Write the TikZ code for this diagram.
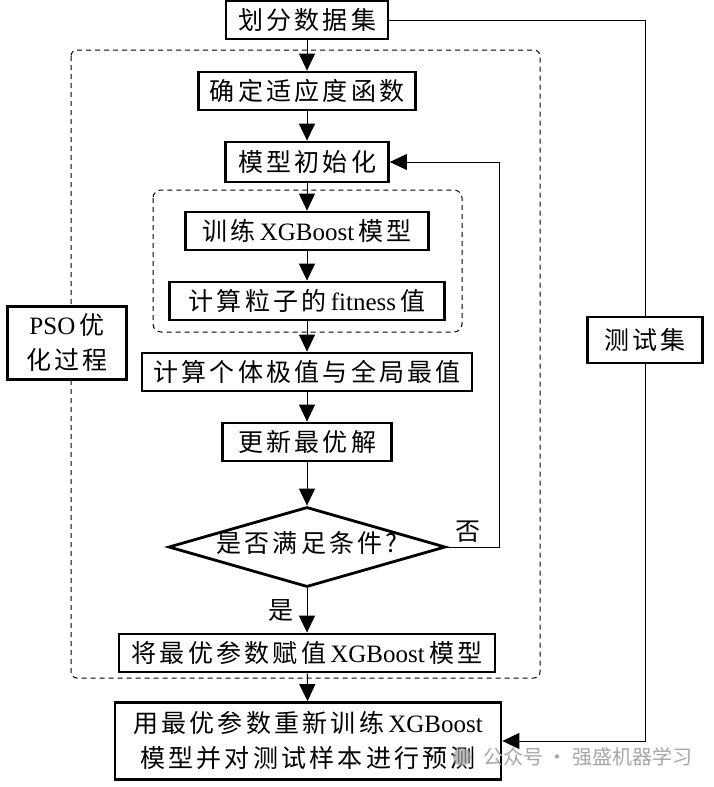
\documentclass[tikz,border=0pt]{standalone}
\usepackage{fontspec}
\setmainfont[LetterSpace=13]{Noto Sans CJK SC}
\newfontfamily\lat{Liberation Serif}
\newfontfamily\wmfont{Noto Sans CJK SC}
\newcommand{\en}[1]{{\lat #1}}
\usetikzlibrary{arrows.meta,shapes.geometric}

\tikzset{
  box/.style={draw,line width=2.8pt,fill=white,inner xsep=6pt,inner ysep=0pt,minimum height=38pt},
  arr/.style={-{Triangle[width=16pt,length=17pt]},line width=1pt},
  ln/.style={line width=1pt},
  dashbox/.style={dash pattern=on 5pt off 4pt,line width=1pt,rounded corners=6pt}
}

\begin{document}
\begin{tikzpicture}[x=1pt,y=-1pt,font=\fontsize{25pt}{35pt}\selectfont]
\useasboundingbox (0,0) rectangle (713,787);

\draw[dashbox] (71,50) rectangle (540,678);
\draw[dashbox,rounded corners=8pt] (153,190) rectangle (462,332);

\node[box,minimum width=162pt] (split) at (307,20) {划分数据集};
\node[box,minimum width=217pt] (fitfn) at (307,91) {确定适应度函数};
\node[box,minimum width=163pt,minimum height=40pt] (init) at (307,162) {模型初始化};
\node[box,minimum width=243pt] (train) at (307,231) {训练\,\en{XGBoost}\,模型};
\node[box,minimum width=275pt] (fitness) at (307,301) {计算粒子的\,\en{fitness}\,值};
\node[box,minimum width=330pt] (best) at (307,372) {计算个体极值与全局最值};
\node[box,minimum width=169pt] (update) at (307,442) {更新最优解};
\node[draw,diamond,line width=2.8pt,fill=white,inner sep=0pt,text height=14pt,text depth=4pt,
      aspect=3.4,minimum width=277pt,minimum height=80pt] (cond) at (307,547) {是否满足条件?};
\node[box,minimum width=376pt] (assign) at (307,653) {将最优参数赋值\,\en{XGBoost}\,模型};
\node[box,minimum width=386pt,minimum height=77pt,align=center] (final) at (308,741)
  {用最优参数重新训练\,\en{XGBoost}\\模型并对测试样本进行预测};
\node[box,minimum width=115pt,minimum height=46pt] (test) at (645,340) {测试集};
\node[box,minimum width=119pt,minimum height=73pt,align=center] (pso) at (67,343)
  {\en{PSO}\,优\\化过程};

\foreach \a/\b in {split/fitfn,fitfn/init,init/train,train/fitness,fitness/best,best/update,update/cond,assign/final}
{
\draw[arr] (\a) -- (\b);
}
\draw[arr] (cond) -- node[left=10pt] (yes) {是} (assign);
\draw[arr] (cond.east) -- node[above=1pt,pos=0.4] (no) {否} ++(53,0) |- (init.east);
\draw[ln] (split.north) -- ++(0,-3);
\draw[ln] (split.east) -| (test.north);
\draw[arr] (test.south) |- (final.east);

\fill[gray!70,opacity=0.7] (462,757) circle (9pt);
\node[text=gray!70,font=\wmfont\fontsize{20pt}{24pt}\selectfont,anchor=west] (wm) at (480,757) {公众号 · 强盛机器学习};
\end{tikzpicture}
\end{document}
